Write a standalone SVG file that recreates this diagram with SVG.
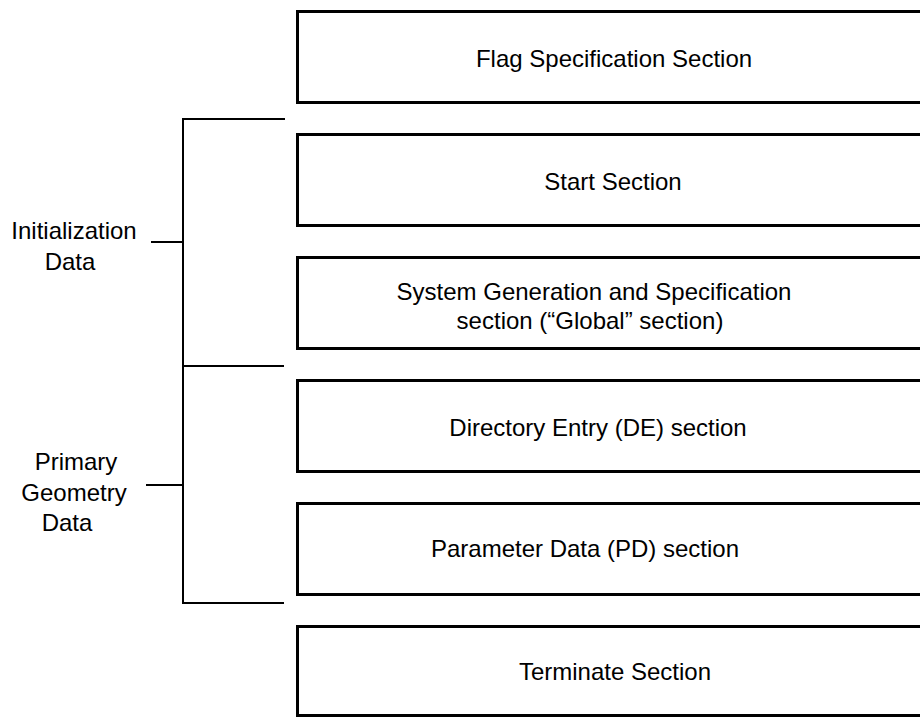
<svg xmlns="http://www.w3.org/2000/svg" width="920" height="717" viewBox="0 0 920 717">
  <style>
    .box { fill: #ffffff; stroke: #000000; stroke-width: 3; }
    .brace { fill: none; stroke: #000000; stroke-width: 2; }
    text { font-family: "Liberation Sans", Arial, sans-serif; font-size: 24px; fill: #000000; text-anchor: middle; }
  </style>
  <rect width="920" height="717" fill="#ffffff"/>

  <!-- file sections, stacked top to bottom -->
  <g id="flag-section">
    <rect class="box" x="297.5" y="11.5" width="640" height="91"/>
    <text x="614" y="67">Flag Specification Section</text>
  </g>
  <g id="start-section">
    <rect class="box" x="297.5" y="134.5" width="640" height="91"/>
    <text x="613" y="190">Start Section</text>
  </g>
  <g id="global-section">
    <rect class="box" x="297.5" y="257.5" width="640" height="91"/>
    <text x="594" y="300">System Generation and Specification</text>
    <text x="590" y="329">section (“Global” section)</text>
  </g>
  <g id="de-section">
    <rect class="box" x="297.5" y="380.5" width="640" height="91"/>
    <text x="598" y="436">Directory Entry (DE) section</text>
  </g>
  <g id="pd-section">
    <rect class="box" x="297.5" y="503.5" width="640" height="91"/>
    <text x="585" y="557">Parameter Data (PD) section</text>
  </g>
  <g id="terminate-section">
    <rect class="box" x="297.5" y="626.5" width="640" height="89"/>
    <text x="615" y="680">Terminate Section</text>
  </g>

  <!-- group labels -->
  <g id="initialization-data">
    <text x="74" y="239">Initialization</text>
    <text x="70" y="270">Data</text>
  </g>
  <g id="primary-geometry-data">
    <text x="76" y="470">Primary</text>
    <text x="74" y="501">Geometry</text>
    <text x="67" y="531">Data</text>
  </g>

  <!-- brackets tying labels to their sections -->
  <g id="connectors">
    <path class="brace" d="M285 119 H183 V603 H284"/>
    <path class="brace" d="M183 366 H284"/>
    <path class="brace" d="M151 242 H183"/>
    <path class="brace" d="M146 485 H183"/>
  </g>
</svg>
